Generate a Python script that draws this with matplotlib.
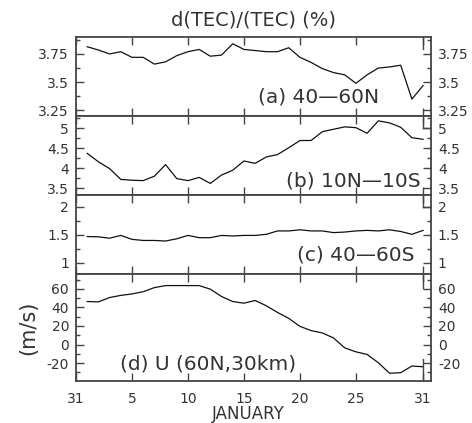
import matplotlib
matplotlib.use('Agg')
import matplotlib.pyplot as plt
import matplotlib.ticker as ticker
import numpy as np

# days of January (0 = Dec 31)
days = np.arange(1, 32)

tec_40_60N = [3.814, 3.785, 3.75, 3.77, 3.72, 3.72, 3.66, 3.68, 3.735, 3.77,
              3.79, 3.73, 3.74, 3.84, 3.79, 3.78, 3.77, 3.77, 3.805, 3.72,
              3.675, 3.62, 3.585, 3.565, 3.49, 3.565, 3.625, 3.635, 3.65, 3.35,
              3.47]
tec_10N_10S = [4.37, 4.16, 3.99, 3.72, 3.70, 3.69, 3.80, 4.09, 3.74, 3.69,
               3.77, 3.62, 3.83, 3.95, 4.18, 4.12, 4.28, 4.34, 4.51, 4.69,
               4.69, 4.91, 4.97, 5.03, 5.01, 4.87, 5.18, 5.13, 5.02, 4.76,
               4.72]
tec_40_60S = [1.47, 1.465, 1.44, 1.49, 1.42, 1.40, 1.40, 1.39, 1.43, 1.49,
              1.45, 1.45, 1.49, 1.48, 1.49, 1.49, 1.51, 1.57, 1.57, 1.59,
              1.57, 1.57, 1.54, 1.55, 1.57, 1.58, 1.57, 1.59, 1.56, 1.51,
              1.58]
u_60N_30km = [46.4, 46.0, 50.7, 53.0, 54.6, 57.0, 61.4, 63.6, 63.6, 63.6,
              63.6, 59.7, 51.8, 46.4, 44.6, 47.5, 41.8, 34.6, 28.2, 19.6,
              15.0, 12.5, 7.1, -3.6, -7.9, -10.7, -19.6, -31.0, -30.4, -23.2,
              -24.0]

xtick_pos = [0, 5, 10, 15, 20, 25, 31]
xtick_lab = ['31', '5', '10', '15', '20', '25', '31']

series = [tec_40_60N, tec_10N_10S, tec_40_60S, u_60N_30km]
labels = ['(a) 40\u201460N', '(b) 10N\u201410S', '(c) 40\u201460S', '(d) U (60N,30km)']
ylims = [(3.2, 3.9), (3.33, 5.3), (0.8, 2.21), (-39.5, 76)]
majors = [[3.25, 3.5, 3.75], [3.5, 4, 4.5, 5], [1, 1.5, 2], [-20, 0, 20, 40, 60]]
minors = [0.125, 0.25, 0.25, 10]
# label anchor (x in data, y in axes fraction, ha)
lab_pos = [(27.05, 0.24, 'right'), (30.8, 0.18, 'right'), (30.27, 0.24, 'right'), (3.93, 0.16, 'left')]

fig = plt.figure(figsize=(4.72, 4.23), dpi=100)
gs = fig.add_gridspec(4, 1, height_ratios=[79, 79, 79, 107], hspace=0,
                      left=0.161, right=0.913, bottom=0.099, top=0.9125)

spine_col = '#444444'
txt_col = '#333333'
for i in range(4):
    ax = fig.add_subplot(gs[i])
    ax.plot(days, series[i], color='#111111', lw=0.9)
    ax.set_xlim(0, 31.7)
    ax.set_ylim(*ylims[i])
    ax.set_yticks(majors[i])
    ax.yaxis.set_major_formatter(ticker.FormatStrFormatter('%g'))
    ax.yaxis.set_minor_locator(ticker.MultipleLocator(minors[i]))
    ax.set_xticks(xtick_pos)
    ax.tick_params(which='both', direction='in', top=True, right=True,
                   labelright=True, labelsize=10, labelcolor=txt_col)
    ax.tick_params(which='major', length=6, width=1, color=spine_col)
    ax.tick_params(which='minor', length=3, width=1, color=spine_col)
    ax.tick_params(axis='y', pad=5)
    ax.tick_params(axis='x', pad=8)
    for sp in ax.spines.values():
        sp.set_color(spine_col)
        sp.set_linewidth(1.3)
    if i < 3:
        ax.set_xticklabels([])
        ax.axvline(31, ymin=0.85, ymax=1, color=spine_col, lw=1)
    else:
        ax.set_xticklabels(xtick_lab)
        ax.axvline(31, ymin=0.87, ymax=1, color=spine_col, lw=1)
        ax.axvline(31, ymin=0, ymax=0.21, color=spine_col, lw=1)
        ax.set_ylabel('(m/s)', fontsize=15, color=txt_col, labelpad=6)
    if i in (1, 2):
        ax.axhline(ylims[i][1] - 0.15 * (ylims[i][1] - ylims[i][0]),
                   xmin=31 / 31.7, xmax=1, color=spine_col, lw=1)
    lx, ly, ha = lab_pos[i]
    ax.text(lx, ly, labels[i], transform=ax.get_xaxis_transform(),
            fontsize=14.5, ha=ha, va='center', color=txt_col)
    if i == 0:
        ax.set_title('d(TEC)/(TEC) (%)', fontsize=14, color=txt_col, pad=8)

fig.text(0.527, 0.022, 'JANUARY', fontsize=12, color=txt_col,
         ha='center', va='center')

fig.savefig('out.png', dpi=100)
